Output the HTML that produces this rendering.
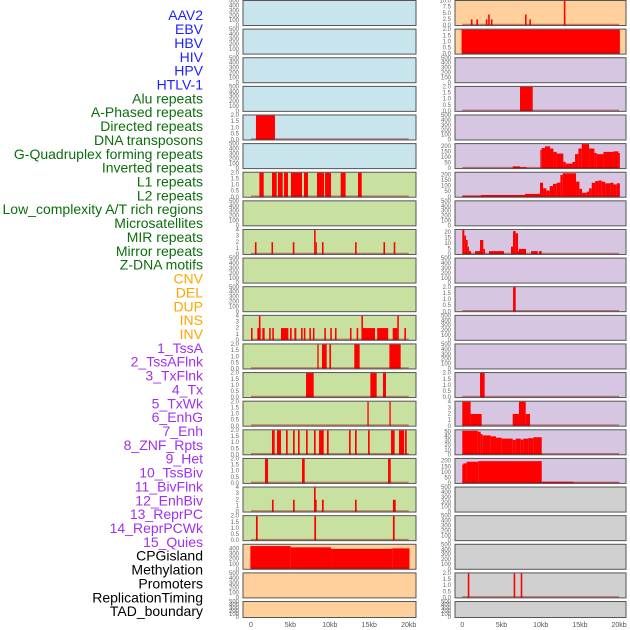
<!DOCTYPE html>
<html><head><meta charset="utf-8"><style>
html,body{margin:0;padding:0;background:#fff;}
svg{display:block;font-family:"Liberation Sans",sans-serif;}
</style></head><body>
<svg id="chart" width="630" height="630" viewBox="0 0 630 630" xmlns="http://www.w3.org/2000/svg"></svg>
<script>
const trackNames = ["AAV2","EBV","HBV","HIV","HPV","HTLV-1","Alu repeats","A-Phased repeats","Directed repeats","DNA transposons","G-Quadruplex forming repeats","Inverted repeats","L1 repeats","L2 repeats","Low_complexity A/T rich regions","Microsatellites","MIR repeats","Mirror repeats","Z-DNA motifs","CNV","DEL","DUP","INS","INV","1_TssA","2_TssAFlnk","3_TxFlnk","4_Tx","5_TxWk","6_EnhG","7_Enh","8_ZNF_Rpts","9_Het","10_TssBiv","11_BivFlnk","12_EnhBiv","13_ReprPC","14_ReprPCWk","15_Quies","CPGisland","Methylation","Promoters","ReplicationTiming","TAD_boundary"];
const trackCategory = [0,0,0,0,0,0,1,1,1,1,1,1,1,1,1,1,1,1,1,2,2,2,2,2,3,3,3,3,3,3,3,3,3,3,3,3,3,3,3,4,4,4,4,4];
const categoryLabelColor = ["#1f1fff","#0c6e0c","#ffa500","#a030f0","#000000"];
const categoryPanelColor = ["#c8e4ec","#c8e0a0","#ffd09c","#d6c6e2","#d0d0d0"];
const xTickValues = [0,5,10,15,20];
const xTickLabels = ["0","5kb","10kb","15kb","20kb"];
const ticksEmpty = [0,100,200,300,400,500];
const ticks2 = [0,0.5,1,1.5,2];
const ticks4 = [0,1,2,3,4];
const ticks10 = [0,2.5,5,7.5,10];
const ticks200 = [0,50,100,150,200];
const ticks20 = [0,5,10,15,20];
const ticks50 = [0,10,20,30,40,50];
const ticks400 = [0,100,200,300,400];
// segments: [startKb, endKb, value]
const seg04 = [[0.63,3.04,2]];
const seg06 = [[1.06,1.61,2],[2.66,3.26,2],[3.42,4.02,2],[4.19,4.69,2],[5.07,6.47,2],[6.72,7.23,2],[8.37,9.26,2],[9.39,10.15,2],[11.37,12.0,2],[13.57,14.04,2]];
const seg08 = [[0.5,0.7,2],[2.6,2.8,2],[5.3,5.5,2],[8.0,8.2,4],[8.2,8.35,2],[9.0,9.2,2],[13.2,13.4,2],[16.8,17.0,2],[18.1,18.3,2]];
const seg11 = [[0,0.2,2],[0.8,1.23,2],[1.0,1.2,4],[1.44,1.73,2],[2.3,2.5,2],[2.7,2.9,2],[3.8,4.74,2],[4.95,5.16,2],[5.5,5.75,2],[6.35,6.55,2],[6.7,6.9,2],[7.4,7.6,2],[7.85,8.05,2],[9.3,9.5,2],[10.05,10.25,2],[10.65,10.85,2],[12.55,12.75,2],[13.4,13.6,2],[14.0,14.2,4],[14.12,15.73,2],[16.0,17.4,2],[17.97,18.56,2],[18.55,18.75,4],[19.45,19.66,2]];
const seg12 = [[8.41,8.58,2],[9.0,9.6,2],[9.94,10.15,2],[13.1,13.78,2],[17.55,18.98,2]];
const seg13 = [[6.98,7.95,2],[15.14,15.94,2],[16.74,17.12,2]];
const seg14 = [[14.76,14.93,2],[17.55,17.72,2]];
const seg15 = [[2.66,3.0,2],[3.3,3.8,2],[4.44,4.65,2],[5.33,5.54,2],[5.96,6.17,2],[6.98,7.19,2],[7.99,8.2,2],[8.63,9.22,2],[9.64,9.85,2],[12.43,12.64,2],[13.19,13.4,2],[14.84,15.05,2],[17.76,18.22,2],[18.77,19.41,2],[19.53,19.75,2]];
const seg16 = [[1.78,2.16,2],[6.47,6.81,2],[17.38,17.72,2]];
const seg17 = [[2.66,2.87,2],[5.33,5.54,2],[7.99,8.2,4],[8.16,8.33,2],[9.0,9.22,2],[13.19,13.4,2],[18.0,18.35,2]];
const seg18 = [[0.63,0.85,2],[8.03,8.25,2],[18.0,18.22,2]];
const seg19 = [[-0.08,5.03,455],[5.03,10.15,430],[10.15,17.93,400],[17.93,20.1,410]];
const seg22 = [[1.1,1.3,2.5],[1.8,2.0,2.5],[3.0,3.2,2.5],[3.3,3.5,4.5],[3.65,3.85,2.5],[8.0,8.2,4.5],[8.55,8.75,2.5],[12.95,13.15,10]];
const seg23 = [[-0.09,20.1,2]];
const seg25 = [[7.36,8.98,2]];
const seg27 = [[6.43,7.36,20],[7.36,8.21,12],[8.21,9.96,3],[9.96,10.13,170],[10.13,10.55,185],[10.55,11.19,200],[11.19,11.62,180],[11.62,12.04,150],[12.04,12.89,135],[12.89,13.19,60],[13.19,14.04,45],[14.04,14.38,60],[14.38,14.81,130],[14.81,15.23,180],[15.23,16.17,220],[16.17,16.85,180],[16.85,17.15,140],[17.15,18.0,130],[18.0,19.28,150],[19.28,19.91,155],[19.91,20.1,140]];
const seg28 = [[0,2.38,15],[2.38,8.0,20],[8.0,9.91,30],[9.91,10.3,130],[10.3,10.72,80],[10.72,11.15,60],[11.15,11.57,100],[11.57,12.04,120],[12.04,12.51,130],[12.51,12.81,200],[12.81,14.51,215],[14.51,14.94,140],[14.94,15.28,75],[15.28,15.87,40],[15.87,16.17,50],[16.17,16.51,80],[16.51,16.94,130],[16.94,17.36,145],[17.36,17.79,150],[17.79,18.21,140],[18.21,18.85,125],[18.85,19.28,130],[19.28,19.7,115],[19.7,20.1,125]];
const seg30 = [[0,0.26,22],[0.26,0.47,17],[0.47,0.68,13],[0.68,0.85,7],[0.85,1.11,3],[1.62,2.26,3],[2.26,2.68,13],[2.68,2.89,5],[3.4,5.32,3],[6.21,6.47,7],[6.47,6.81,21],[6.81,7.11,19],[7.11,7.23,3],[7.23,8.13,5],[8.77,9.62,3],[9.79,10.13,3]];
const seg32 = [[6.47,6.81,2]];
const seg35 = [[2.26,2.85,2]];
const seg36 = [[0,1.06,4],[1.06,2.47,2],[6.43,7.23,2],[7.23,8.09,4],[8.09,8.64,2]];
const seg37 = [[0,1.96,52],[1.96,2.34,50],[2.34,2.55,45],[2.55,3.62,42],[3.62,4.3,40],[4.3,5.02,37],[5.02,6.43,35],[6.43,6.81,32],[6.81,7.45,35],[7.45,7.79,33],[7.79,8.43,35],[8.43,9.06,36],[9.06,10.13,38]];
const seg38 = [[0,0.13,170],[0.13,0.55,180],[0.55,2.04,195],[2.04,10.13,200],[10.13,14.17,15],[14.17,20.1,8]];
const seg42 = [[0.7,0.9,2],[6.55,6.75,2],[7.45,7.65,2]];

const E=null;
const panelSegments = [E,E,E,E,seg04,E,seg06,E,seg08,E,E,seg11,seg12,seg13,seg14,seg15,seg16,seg17,seg18,seg19,E,E,
  seg22,seg23,E,seg25,E,seg27,seg28,E,seg30,E,seg32,E,E,seg35,seg36,seg37,seg38,E,E,E,seg42,E];
const panelTicks = [ticksEmpty,ticksEmpty,ticksEmpty,ticksEmpty,ticks2,ticksEmpty,ticks2,ticksEmpty,ticks4,ticksEmpty,ticksEmpty,ticks4,ticks2,ticks2,ticks2,ticks2,ticks2,ticks4,ticks2,ticks400,ticksEmpty,ticksEmpty,
  ticks10,ticks2,ticksEmpty,ticks2,ticksEmpty,ticks200,ticks200,ticksEmpty,ticks20,ticksEmpty,ticks2,ticksEmpty,ticksEmpty,ticks2,ticks4,ticks50,ticks200,ticksEmpty,ticksEmpty,ticksEmpty,ticks2,ticksEmpty];
const panelYMax = [500,500,500,500,2,500,2,500,4,500,500,4,2,2,2,2,2,4,2,480,500,500,
  10,2,500,2,500,220,220,500,22,500,2,500,500,2,4,53,220,500,500,500,2,500];

const NS="http://www.w3.org/2000/svg";
const svg=document.getElementById('chart');
function mk(tag,attrs,parent){const e=document.createElementNS(NS,tag);for(const k in attrs)e.setAttribute(k,attrs[k]);(parent||svg).appendChild(e);return e;}

trackNames.forEach((n,i)=>{
  const t=mk('text',{x:203,y:16.5+i*13.86,'text-anchor':'end','dominant-baseline':'middle','font-size':14,fill:categoryLabelColor[trackCategory[i]]});
  
  
  t.textContent=n;
});

const colX=[[243,416],[455,626]];
const colX0=[251,462.3], colScale=[7.885,7.84];
function xScale(col,kb){return colX0[col]+kb*colScale[col];}

for(let p=0;p<44;p++){
  const col=p<22?0:1, row=p%22;
  const top=row*28.62+0.5;
  const h=row===21?16:25;
  const bottom=top+h;
  const g=mk('g',{});
  
  
  const ymax=panelYMax[p];
  const yScale=v=>bottom-(v/ymax)*(h-0.5);
  const bg=mk('rect',{x:colX[col][0],y:top,width:colX[col][1]-colX[col][0],height:h,fill:categoryPanelColor[trackCategory[p]]},g);
  
  
  const segs=panelSegments[p];
  if(segs){
    segs.forEach(s=>{
      const x1=Math.max(colX[col][0],xScale(col,s[0])), x2=Math.min(colX[col][1],xScale(col,s[1]));
      const y=Math.max(top,yScale(s[2]));
      const r=mk('rect',{x:x1,y:y,width:Math.max(1.2,x2-x1),height:bottom-y,fill:'#ff0000'},g);
      
      
    });
    const bl=mk('line',{x1:xScale(col,0),x2:xScale(col,20),y1:bottom-1,y2:bottom-1,stroke:'#a00000','stroke-opacity':0.45,'stroke-width':1.5},g);
    
    
  }
  const br=mk('rect',{x:colX[col][0],y:top,width:colX[col][1]-colX[col][0],height:h,fill:'none',stroke:'#555','stroke-width':1},g);
  
  
  panelTicks[p].forEach(tv=>{
    const lbl=panelTicks[p]===ticks2?tv.toFixed(1):(panelTicks[p]===ticks10?tv.toFixed(1):String(tv));
    const t=mk('text',{x:colX[col][0]-4,y:yScale(tv),'text-anchor':'end','dominant-baseline':'middle','font-size':6,fill:'#666'},g);
    
    
    t.textContent=lbl;
  });
}
for(let col=0;col<2;col++){
  xTickValues.forEach((v,i)=>{
    const t=mk('text',{x:xScale(col,v),y:627,'text-anchor':'middle','font-size':7,fill:'#555'});
    
    
    t.textContent=xTickLabels[i];
  });
}
</script>
</body></html>
